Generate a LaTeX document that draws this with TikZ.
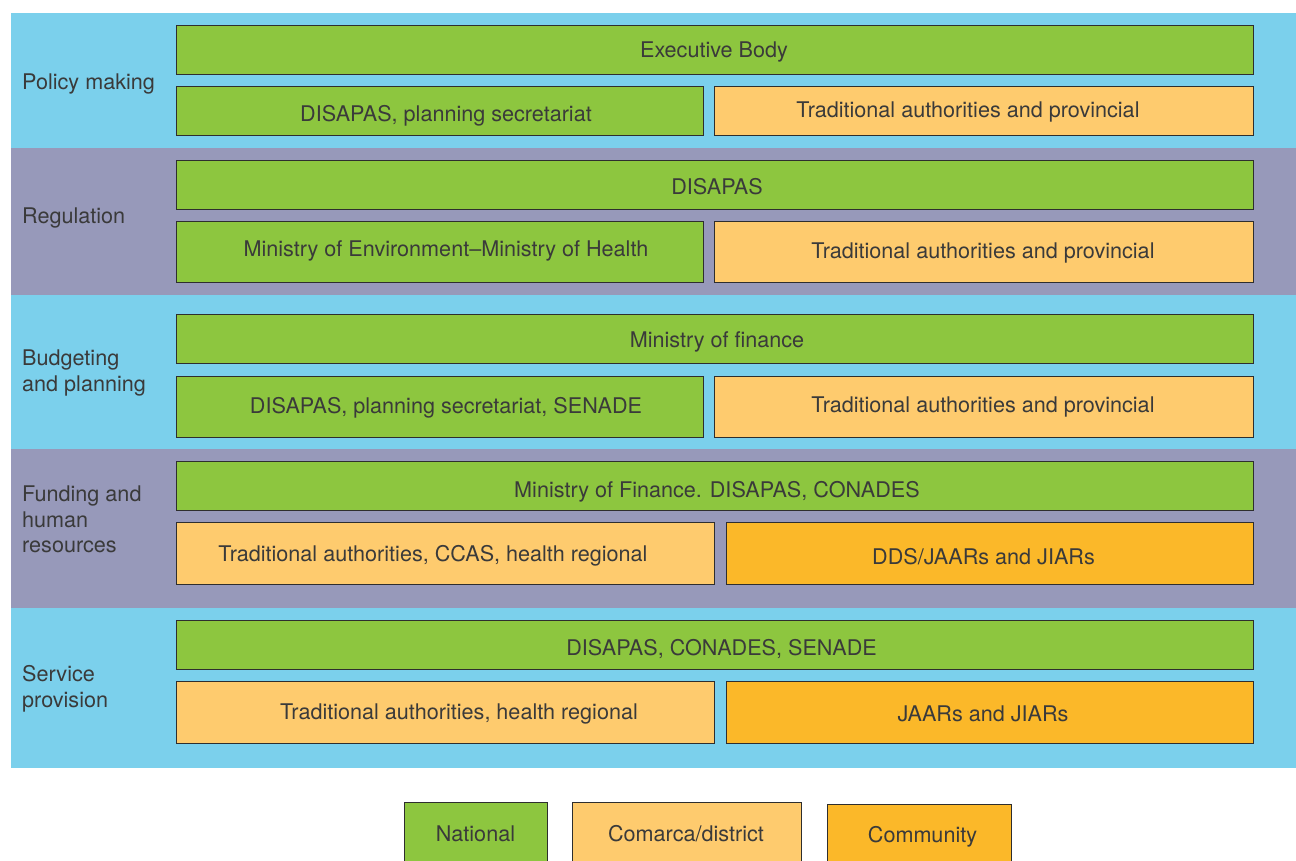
\documentclass[tikz,border=0pt]{standalone}
\usepackage{fontspec}
\setmainfont{TeX Gyre Heros}
\definecolor{bandblue}{HTML}{7BD0EC}
\definecolor{bandpurple}{HTML}{9799BA}
\definecolor{natgreen}{HTML}{8DC63F}
\definecolor{distorange}{HTML}{FECB6E}
\definecolor{commorange}{HTML}{FBB829}
\definecolor{inkgray}{HTML}{3A3A3A}
\definecolor{edgegray}{HTML}{2E2E2E}
\tikzset{
  cell/.style={draw=edgegray, line width=1.4pt, anchor=north west, inner sep=0pt},
  national/.style={cell, fill=natgreen},
  district/.style={cell, fill=distorange},
  community/.style={cell, fill=commorange},
  caption/.style={anchor=base, inner sep=0pt, text=inkgray,
    font=\fontsize{21.6}{26}\selectfont},
  rowlabel/.style={caption, anchor=base west},
}
\begin{document}
\begin{tikzpicture}[x=1pt,y=-1pt]
\useasboundingbox (0,0) rectangle (1296,860);
% horizontal bands
\fill[bandblue]   (11,13)  rectangle (1296,148);
\fill[bandpurple] (11,148) rectangle (1296,295);
\fill[bandblue]   (11,295) rectangle (1296,449);
\fill[bandpurple] (11,449) rectangle (1296,608);
\fill[bandblue]   (11,608) rectangle (1296,768);

% band titles, one line per node
\node[rowlabel] (lpolicy)  at (22,89.7)  {Policy making};
\node[rowlabel] (lreg)     at (22,223.7) {Regulation};
\node[rowlabel] (lbudgeta) at (22,365.7) {Budgeting};
\node[rowlabel] (lbudgetb) at (22,391.7) {and planning};
\node[rowlabel] (lfunda)   at (22,501.7) {Funding and};
\node[rowlabel] (lfundb)   at (22,527.7) {human};
\node[rowlabel] (lfundc)   at (22,552.7) {resources};
\node[rowlabel] (lserva)   at (22,681.7) {Service};
\node[rowlabel] (lservb)   at (22,707.7) {provision};

% policy making
\node[national, minimum width=1077pt, minimum height=49pt] (pm1) at (176,25) {};
\node[national, minimum width=527pt, minimum height=49pt] (pm2) at (176,86) {};
\node[district, minimum width=539pt, minimum height=49pt] (pm3) at (714,86) {};
\node[caption] (pm1t) at (714,57.7)  {Executive Body};
\node[caption] (pm2t) at (446,121.7) {DISAPAS, planning secretariat};
\node[caption] (pm3t) at (968,117.7) {Traditional authorities and provincial};

% regulation
\node[national, minimum width=1077pt, minimum height=49pt] (rg1) at (176,160) {};
\node[national, minimum width=527pt, minimum height=61pt] (rg2) at (176,221) {};
\node[district, minimum width=539pt, minimum height=61pt] (rg3) at (714,221) {};
\node[caption] (rg1t) at (717,194.7) {DISAPAS};
\node[caption] (rg2t) at (446,256.7) {Ministry of Environment–Ministry of Health};
\node[caption] (rg3t) at (983,258.7) {Traditional authorities and provincial};

% budgeting and planning
\node[national, minimum width=1077pt, minimum height=49pt] (bp1) at (176,314) {};
\node[national, minimum width=527pt, minimum height=61pt] (bp2) at (176,376) {};
\node[district, minimum width=539pt, minimum height=61pt] (bp3) at (714,376) {};
\node[caption] (bp1t) at (717,347.7) {Ministry of finance};
\node[caption] (bp2t) at (446,413.7) {DISAPAS, planning secretariat, SENADE};
\node[caption] (bp3t) at (983,412.7) {Traditional authorities and provincial};

% funding and human resources
\node[national, minimum width=1077pt, minimum height=49pt] (fh1) at (176,461) {};
\node[district, minimum width=538pt, minimum height=62pt] (fh2) at (176,522) {};
\node[community, minimum width=527pt, minimum height=62pt] (fh3) at (726,522) {};
\node[caption] (fh1t) at (717,497.7)   {Ministry of Finance. DISAPAS, CONADES};
\node[caption] (fh2t) at (433,561.7)   {Traditional authorities, CCAS, health regional};
\node[caption] (fh3t) at (983.5,564.7) {DDS/JAARs and JIARs};

% service provision
\node[national, minimum width=1077pt, minimum height=49pt] (sp1) at (176,620) {};
\node[district, minimum width=538pt, minimum height=62pt] (sp2) at (176,681) {};
\node[community, minimum width=527pt, minimum height=62pt] (sp3) at (726,681) {};
\node[caption] (sp1t) at (721.5,655.7) {DISAPAS, CONADES, SENADE};
\node[caption] (sp2t) at (459,719.7)   {Traditional authorities, health regional};
\node[caption] (sp3t) at (983,721.7)   {JAARs and JIARs};

% legend
\node[national, minimum width=143pt, minimum height=64pt] (kn) at (404,802) {};
\node[district, minimum width=229pt, minimum height=64pt] (kd) at (572,802) {};
\node[community, minimum width=184pt, minimum height=62pt] (kc) at (827,804) {};
\node[caption] (knt) at (475.5,841.7) {National};
\node[caption] (kdt) at (686,841.7)   {Comarca/district};
\node[caption] (kct) at (922.5,842.7) {Community};
\end{tikzpicture}
\end{document}
